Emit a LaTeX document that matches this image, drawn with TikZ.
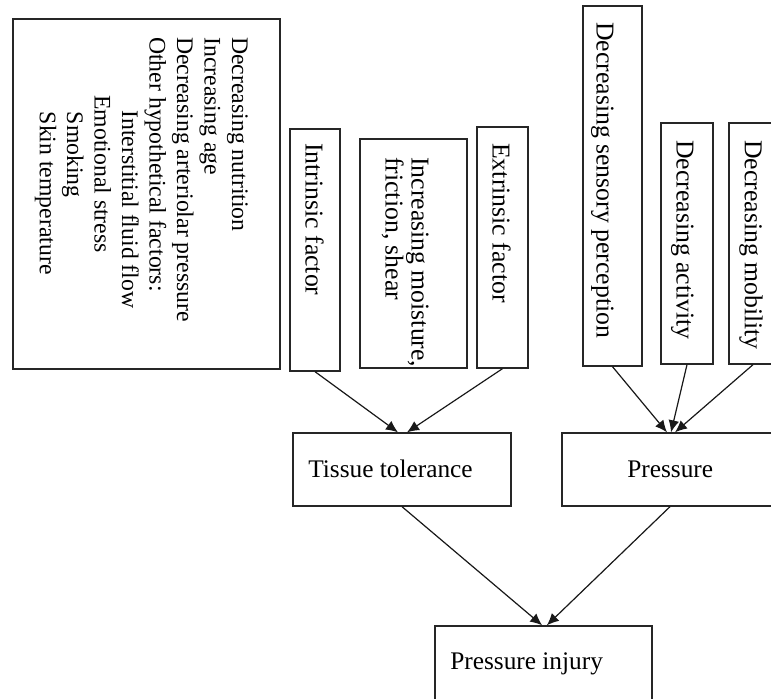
\documentclass[tikz,border=0pt]{standalone}
\usepackage{fontspec}
\setmainfont{Liberation Serif}
\usetikzlibrary{fit,arrows.meta}
\begin{document}
\begin{tikzpicture}[x=0.75pt,y=-0.75pt,
  box/.style={draw=black!85, line width=1pt, inner sep=0pt, rectangle},
  vtext/.style={rotate=-90, anchor=north west, inner sep=0pt, align=left, font=\fontsize{19.3}{19.5}\selectfont},
  htext/.style={anchor=base west, inner sep=0pt, font=\fontsize{19}{22}\selectfont},
  arr/.style={-{Latex[length=9pt,width=8pt]}, line width=0.9pt, draw=black!90, fill=black!90}]
\useasboundingbox (0,0) rectangle (771,699);
\clip (0,0) rectangle (771,699);
% boxes
\node[box, fit={(13,19) (280,369)}] (big) {};
\node[box, fit={(290,129) (340,371)}] (intr) {};
\node[box, fit={(360,139) (467,368)}] (moist) {};
\node[box, fit={(477,127) (528,368)}] (extr) {};
\node[box, fit={(583,6) (642,366)}] (sens) {};
\node[box, fit={(661,123) (713,364)}] (act) {};
\node[box, fit={(729,123) (781,364)}] (mob) {};
\node[box, fit={(293,433) (511,506)}] (tissue) {};
\node[box, fit={(562,433) (778,506)}] (press) {};
\node[box, fit={(435,626) (652,720)}] (inj) {};
% vertical texts
\node[vtext, font=\fontsize{17.8}{20.6}\selectfont] (bigtxt) at (248,37) {Decreasing nutrition\\Increasing age\\Decreasing arteriolar pressure\\Other hypothetical factors:\\\hspace*{55pt}Interstitial fluid flow\\\hspace*{43.5pt}Emotional stress\\\hspace*{56pt}Smoking\\\hspace*{56pt}Skin temperature};
\node[vtext] (intrtxt) at (324,143) {Intrinsic factor};
\node[vtext] (moisttxt) at (429,157) {Increasing moisture,\\friction, shear};
\node[vtext] (extrtxt) at (511,143) {Extrinsic factor};
\node[vtext] (senstxt) at (614,22) {Decreasing sensory perception};
\node[vtext] (acttxt) at (694,140) {Decreasing activity};
\node[vtext] (mobtxt) at (763,140) {Decreasing mobility};
% horizontal texts
\node[htext] (tissuetxt) at (308,477) {Tissue tolerance};
\node[htext] (presstxt) at (627,477) {Pressure};
\node[htext] (injtxt) at (450,669) {Pressure injury};
% connectors
\draw[arr] (intr.south) -- ([xshift=-3pt]tissue.north);
\draw[arr] (extr.south) -- ([xshift=3.75pt]tissue.north);
\draw[arr] (sens.south) -- ([xshift=-2.25pt]press.north);
\draw[arr] (act.south) -- ([xshift=0.75pt]press.north);
\draw[arr] ([xshift=-1.5pt]mob.south) -- ([xshift=3.75pt]press.north);
\draw[arr] (tissue.south) -- ([xshift=-1pt]inj.north);
\draw[arr] (press.south) -- ([xshift=2.5pt]inj.north);
\end{tikzpicture}
\end{document}
